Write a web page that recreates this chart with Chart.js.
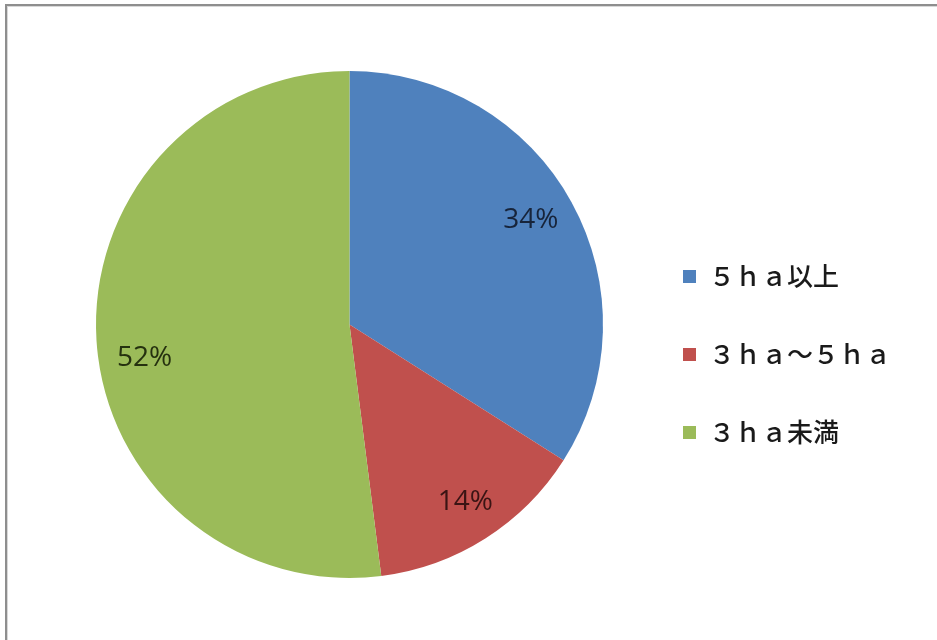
<!DOCTYPE html>
<html lang="ja">
<head>
<meta charset="utf-8">
<title>経営面積別の割合</title>
<script src="https://cdn.jsdelivr.net/npm/chart.js@4/dist/chart.umd.min.js"></script>
<style>
  html, body { margin: 0; padding: 0; background: #fff; overflow: hidden; }
  #wrap { position: relative; width: 937px; height: 640px; }
</style>
</head>
<body>
<div id="wrap"><canvas id="pie" width="937" height="640"></canvas></div>
<script>
  /* ── data ─────────────────────────────────────────── */
  var categories = ['５ｈａ以上', '３ｈａ～５ｈａ', '３ｈａ未満'];
  var shares = [34, 14, 52];
  var sliceColors = ['#4F81BD', '#C0504D', '#9BBB59'];
  var labelColors = ['#17243a', '#3a1414', '#25310f'];

  /* ── plugins ──────────────────────────────────────── */

  // grey frame round the plot area (only top and left edges fall inside)
  var framePlugin = {
    id: 'frame',
    beforeDraw: function (chart) {
      var ctx = chart.ctx;
      ctx.save();
      ctx.fillStyle = '#8e8e8e';
      ctx.fillRect(5, 4, chart.width - 5, 2);
      ctx.fillRect(5, 4, 2, chart.height - 4);
      ctx.fillStyle = '#d8d8d8';
      ctx.fillRect(7, 6, chart.width - 7, 1);
      ctx.fillRect(7, 6, 1, chart.height - 6);
      ctx.restore();
    }
  };

  // push the legend block down a little from its centred position
  var legendShift = {
    id: 'legendShift',
    afterLayout: function (chart, args, opts) {
      if (!chart.legend) return;
      chart.legend.top += opts.dy;
      chart.legend.bottom += opts.dy;
    }
  };

  // percentage text inside each slice
  var sliceLabels = {
    id: 'sliceLabels',
    afterDatasetsDraw: function (chart, args, opts) {
      var ctx = chart.ctx;
      var meta = chart.getDatasetMeta(0);
      ctx.save();
      ctx.font = opts.font;
      ctx.textAlign = 'center';
      ctx.textBaseline = 'middle';
      meta.data.forEach(function (arc, i) {
        var p = arc.getProps(['x', 'y', 'startAngle', 'endAngle', 'outerRadius'], true);
        var mid = (p.startAngle + p.endAngle) / 2;
        var r = p.outerRadius * opts.radiusFraction;
        var nudge = opts.nudge[i] || [0, 0];
        ctx.fillStyle = labelColors[i];
        ctx.fillText(shares[i] + '%',
          p.x + Math.cos(mid) * r + nudge[0],
          p.y + Math.sin(mid) * r + nudge[1]);
      });
      ctx.restore();
    }
  };

  /* ── chart ────────────────────────────────────────── */
  new Chart(document.getElementById('pie'), {
    type: 'pie',
    data: {
      labels: categories,
      datasets: [{
        data: shares,
        backgroundColor: sliceColors,
        borderWidth: 0,
        hoverOffset: 0
      }]
    },
    options: {
      responsive: false,
      animation: false,
      layout: { padding: { left: 68, right: 36, top: 71, bottom: 62 } },
      plugins: {
        tooltip: { enabled: false },
        legend: {
          position: 'right',
          labels: {
            boxWidth: 13,
            boxHeight: 13,
            padding: 52,
            color: '#1a1a1a',
            font: { family: "'Noto Sans CJK JP', 'Noto Sans', sans-serif", size: 26, weight: '500' }
          }
        },
        legendShift: { dy: 30 },
        sliceLabels: {
          font: "500 28px 'Open Sans', 'Liberation Sans', sans-serif",
          radiusFraction: 0.83,
          nudge: [[-3, -3], [3, 0], [5, 20]]
        }
      }
    },
    plugins: [framePlugin, legendShift, sliceLabels]
  });
</script>
</body>
</html>
